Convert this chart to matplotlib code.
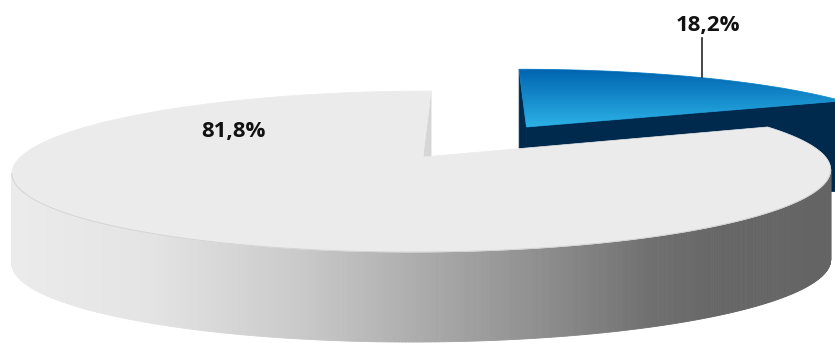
import numpy as np
import matplotlib
matplotlib.use("Agg")
import matplotlib.pyplot as plt
from matplotlib.patches import Polygon

# ---- data -------------------------------------------------------------
shares = [18.2, 81.8]
share_labels = [f"{v:.1f}%".replace(".", ",") for v in shares]
explode = [0.492, 0.0]
start_angle = 90.0          # first slice starts at 12 o'clock, goes clockwise

# ---- styling ------------------------------------------------------------
top_colors = [None, "#EBEBEB"]              # None -> gradient fill
blue_top_stops = [(0, 100, 176), (44, 178, 230)]
side_navy = "#002A4D"
cut_grey = "#D6D6D6"
# grey wall: brightness along screen x
wall_x = [0, 150, 300, 420, 550, 650, 720, 835]
wall_v = [236, 228, 202, 172, 140, 112, 102, 100]
DEPTH_PX = 90.0     # on-screen thickness of the pie

# ---- perspective camera for the top surface -----------------------------
TILT = np.arcsin(0.1935)
C, S = np.cos(TILT), np.sin(TILT)
D = 5.44          # camera distance (pie radius = 1)
F = 2190.0        # focal scale in pixels
CAM_X = 0.13      # horizontal camera offset
X0, Y0 = 475.4, 157.0


def project(x, y):
    x, y = np.asarray(x, float), np.asarray(y, float)
    w = D + y * C
    v = y * S
    return X0 + F * (x - CAM_X) / w, Y0 - F * v / w


def wall_color(px):
    g = np.interp(px, wall_x, wall_v) / 255.0
    return (g, g, g)


def cross(a, b):
    return a[0] * b[1] - a[1] * b[0]


fig = plt.figure(figsize=(8.35, 3.43), dpi=100)
ax = fig.add_axes([0, 0, 1, 1])
ax.set_xlim(0, 835)
ax.set_ylim(343, 0)
ax.axis("off")

# slice angle ranges (clockwise from start)
slices = []
a = start_angle
for i, v in enumerate(shares):
    a0 = a - 360.0 * v / 100.0
    mid = np.radians((a0 + a) / 2)
    ox, oy = explode[i] * np.cos(mid), explode[i] * np.sin(mid)
    slices.append(dict(i=i, a0=a0, a1=a, ox=ox, oy=oy, mid=mid))
    a = a0

# draw farthest slice first
slices.sort(key=lambda s: -s["oy"])

down = np.array([0.0, DEPTH_PX])
for s in slices:
    i, ox, oy = s["i"], s["ox"], s["oy"]
    n = max(int(abs(s["a1"] - s["a0"]) * 3), 8)
    th = np.radians(np.linspace(s["a0"], s["a1"], n))
    tx, ty = project(ox + np.cos(th), oy + np.sin(th))
    apex = np.array(project(ox, oy), float)
    inner = np.array(project(ox + 0.6 * np.cos(s["mid"]), oy + 0.6 * np.sin(s["mid"])), float)
    navy = i == 0

    # cut faces, extruded downward on screen
    for k in (0, -1):
        rim = np.array([tx[k], ty[k]])
        e = rim - apex
        if cross(e, down) * cross(e, inner - apex) < 0:
            quad = np.array([apex, rim, rim + down, apex + down])
            fc = side_navy if navy else cut_grey
            ax.add_patch(Polygon(quad, closed=True, fc=fc, ec=fc, lw=0.5))

    # outer wall: segments on the lower silhouette face the viewer
    front = np.zeros(n, bool)
    for k in range(n - 1):
        if tx[k + 1] <= tx[k]:
            continue
        front[k] = front[k + 1] = True
        p0 = np.array([tx[k], ty[k]])
        p1 = np.array([tx[k + 1], ty[k + 1]])
        quad = np.array([p0, p1, p1 + down, p0 + down])
        fc = side_navy if navy else wall_color(quad[:, 0].mean())
        ax.add_patch(Polygon(quad, closed=True, fc=fc, ec=fc, lw=0.6))

    # top face
    px, py = np.r_[apex[0], tx], np.r_[apex[1], ty]
    if top_colors[i] is None:
        poly = Polygon(np.c_[px, py], closed=True, fc="none", ec="#1A8FD0", lw=0.6)
        ax.add_patch(poly)
        c0, c1 = (np.array(c) / 255.0 for c in blue_top_stops)
        f = np.linspace(0, 1, 256)[:, None, None]
        grad = c0 + (c1 - c0) * f
        im = ax.imshow(grad, extent=(px.min(), px.max(), py.max(), py.min()),
                       aspect="auto", origin="upper", interpolation="bilinear", zorder=1)
        im.set_clip_path(poly)
    else:
        ax.add_patch(Polygon(np.c_[px, py], closed=True, fc=top_colors[i],
                             ec=top_colors[i], lw=0.5, zorder=1))
        # faint rim highlight where the top meets the visible wall
        ax.plot(np.where(front, tx, np.nan), ty, color="#D4D4D4", lw=0.7, zorder=1.1)

# ---- labels -------------------------------------------------------------
font = dict(family=["Open Sans", "DejaVu Sans"], weight="bold", size=16, color="#111111")

# small slice: leader line from the rim midpoint up to the label
s0 = next(s for s in slices if s["i"] == 0)
lx, ly = project(s0["ox"] + np.cos(s0["mid"]), s0["oy"] + np.sin(s0["mid"]))
ax.plot([lx + 4, lx + 4], [ly, 38], color="#262626", lw=1.2, zorder=5)
ax.text(lx + 10, 25, share_labels[0], ha="center", va="center", zorder=6, **font)

ax.text(233, 131, share_labels[1], ha="center", va="center", zorder=6, **font)

fig.savefig("out.png", dpi=100)
